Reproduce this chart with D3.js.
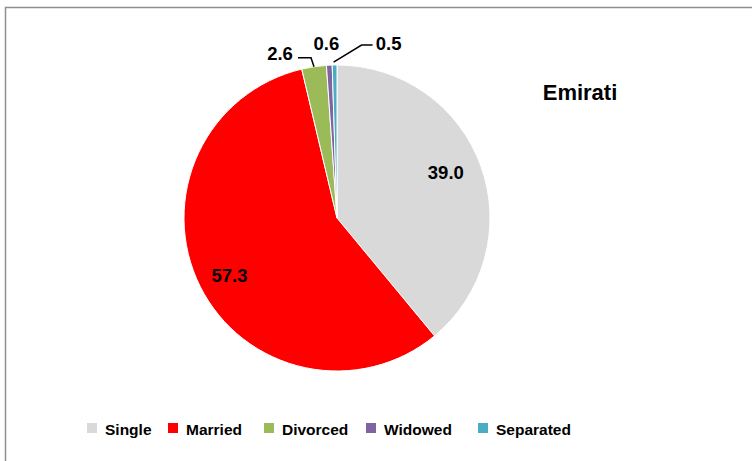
<!DOCTYPE html>
<html>
<head>
<meta charset="utf-8">
<script src="https://cdn.jsdelivr.net/npm/d3@7"></script>
<style>
  body { margin: 0; background: #fff; }
  svg { display: block; }
  text { font-family: "Liberation Sans", Arial, sans-serif; font-weight: bold; fill: #000; }
</style>
</head>
<body>
<div id="chart"></div>
<script>
// data
var categories = ["Single", "Married", "Divorced", "Widowed", "Separated"];
var values = [39.0, 57.3, 2.6, 0.6, 0.5];
var colors = ["#D9D9D9", "#FF0000", "#9BBB59", "#8064A2", "#4BACC6"];
var chartTitle = "Emirati";

var width = 752, height = 461;
var cx = 337, cy = 218, radius = 153;

// label placement: inside labels use a radius factor, outside ones an offset from the slice edge
var labelLayout = [
    { inside: true, dx: -2, dy: -6 },
    { inside: true, dx: -2, dy: 5 },
    { inside: false, dx: -34, dy: -13, leader: [[0, 0], [-3, -9], [-16, -9]] },
    { inside: false, dx: -3, dy: -22, leader: null },
    { inside: false, dx: 54, dy: -22, leader: [[-1, -3], [27, -20], [38, -20]] }
];

var svg = d3.select("#chart")
    .append("svg")
    .attr("width", width)
    .attr("height", height);

// frame
svg.append("rect")
    .attr("x", 5.5)
    .attr("y", 7.5)
    .attr("width", width + 20)
    .attr("height", height + 20)
    .attr("fill", "none")
    .attr("stroke", "#8f8f8f")
    .attr("stroke-width", 1.5);

var data = categories.map(function (c, i) { return { name: c, value: values[i], color: colors[i] }; });

var pie = d3.pie().sort(null).value(function (d) { return d.value; });
var arcs = pie(data);

var arc = d3.arc().innerRadius(0).outerRadius(radius);

var g = svg.append("g").attr("transform", "translate(" + cx + "," + cy + ")");

g.selectAll(".slice")
    .data(arcs)
    .enter()
    .append("path")
    .attr("class", "slice")
    .attr("d", arc)
    .attr("fill", function (d) { return d.data.color; })
    .attr("stroke", "#fff")
    .attr("stroke-width", 1);

// labels
var labelArc = d3.arc().innerRadius(radius * 0.77).outerRadius(radius * 0.77);

arcs.forEach(function (d, i) {
    var lay = labelLayout[i];
    var txt = d.data.value.toFixed(1);
    var lx, ly;
    if (lay.inside) {
        var c = labelArc.centroid(d);
        lx = c[0] + lay.dx;
        ly = c[1] + lay.dy;
    } else {
        var mid = (d.startAngle + d.endAngle) / 2;
        var ex = Math.sin(mid) * radius, ey = -Math.cos(mid) * radius;
        if (lay.leader) {
            var pts = lay.leader.map(function (p) { return [ex + p[0], ey + p[1]]; });
            g.append("path")
                .attr("d", d3.line()(pts))
                .attr("fill", "none")
                .attr("stroke", "#000")
                .attr("stroke-width", 1.5);
        }
        lx = ex + lay.dx;
        ly = ey + lay.dy;
    }
    g.append("text")
        .attr("x", lx)
        .attr("y", ly)
        .attr("text-anchor", "middle")
        .attr("dominant-baseline", "central")
        .style("font-size", "18.5px")
        .text(txt);
});

// title
svg.append("text")
    .attr("x", 580)
    .attr("y", 100)
    .attr("text-anchor", "middle")
    .style("font-size", "22px")
    .text(chartTitle);

// legend
var legendX = [87, 168, 264, 366, 478];
var legend = svg.selectAll(".legend")
    .data(data)
    .enter()
    .append("g")
    .attr("class", "legend")
    .attr("transform", function (d, i) { return "translate(" + legendX[i] + ",423)"; });

legend.append("rect")
    .attr("width", 10)
    .attr("height", 10)
    .attr("fill", function (d) { return d.color; });

legend.append("text")
    .attr("x", 18)
    .attr("y", 11.5)
    .style("font-size", "15.5px")
    .text(function (d) { return d.name; });
</script>
</body>
</html>
